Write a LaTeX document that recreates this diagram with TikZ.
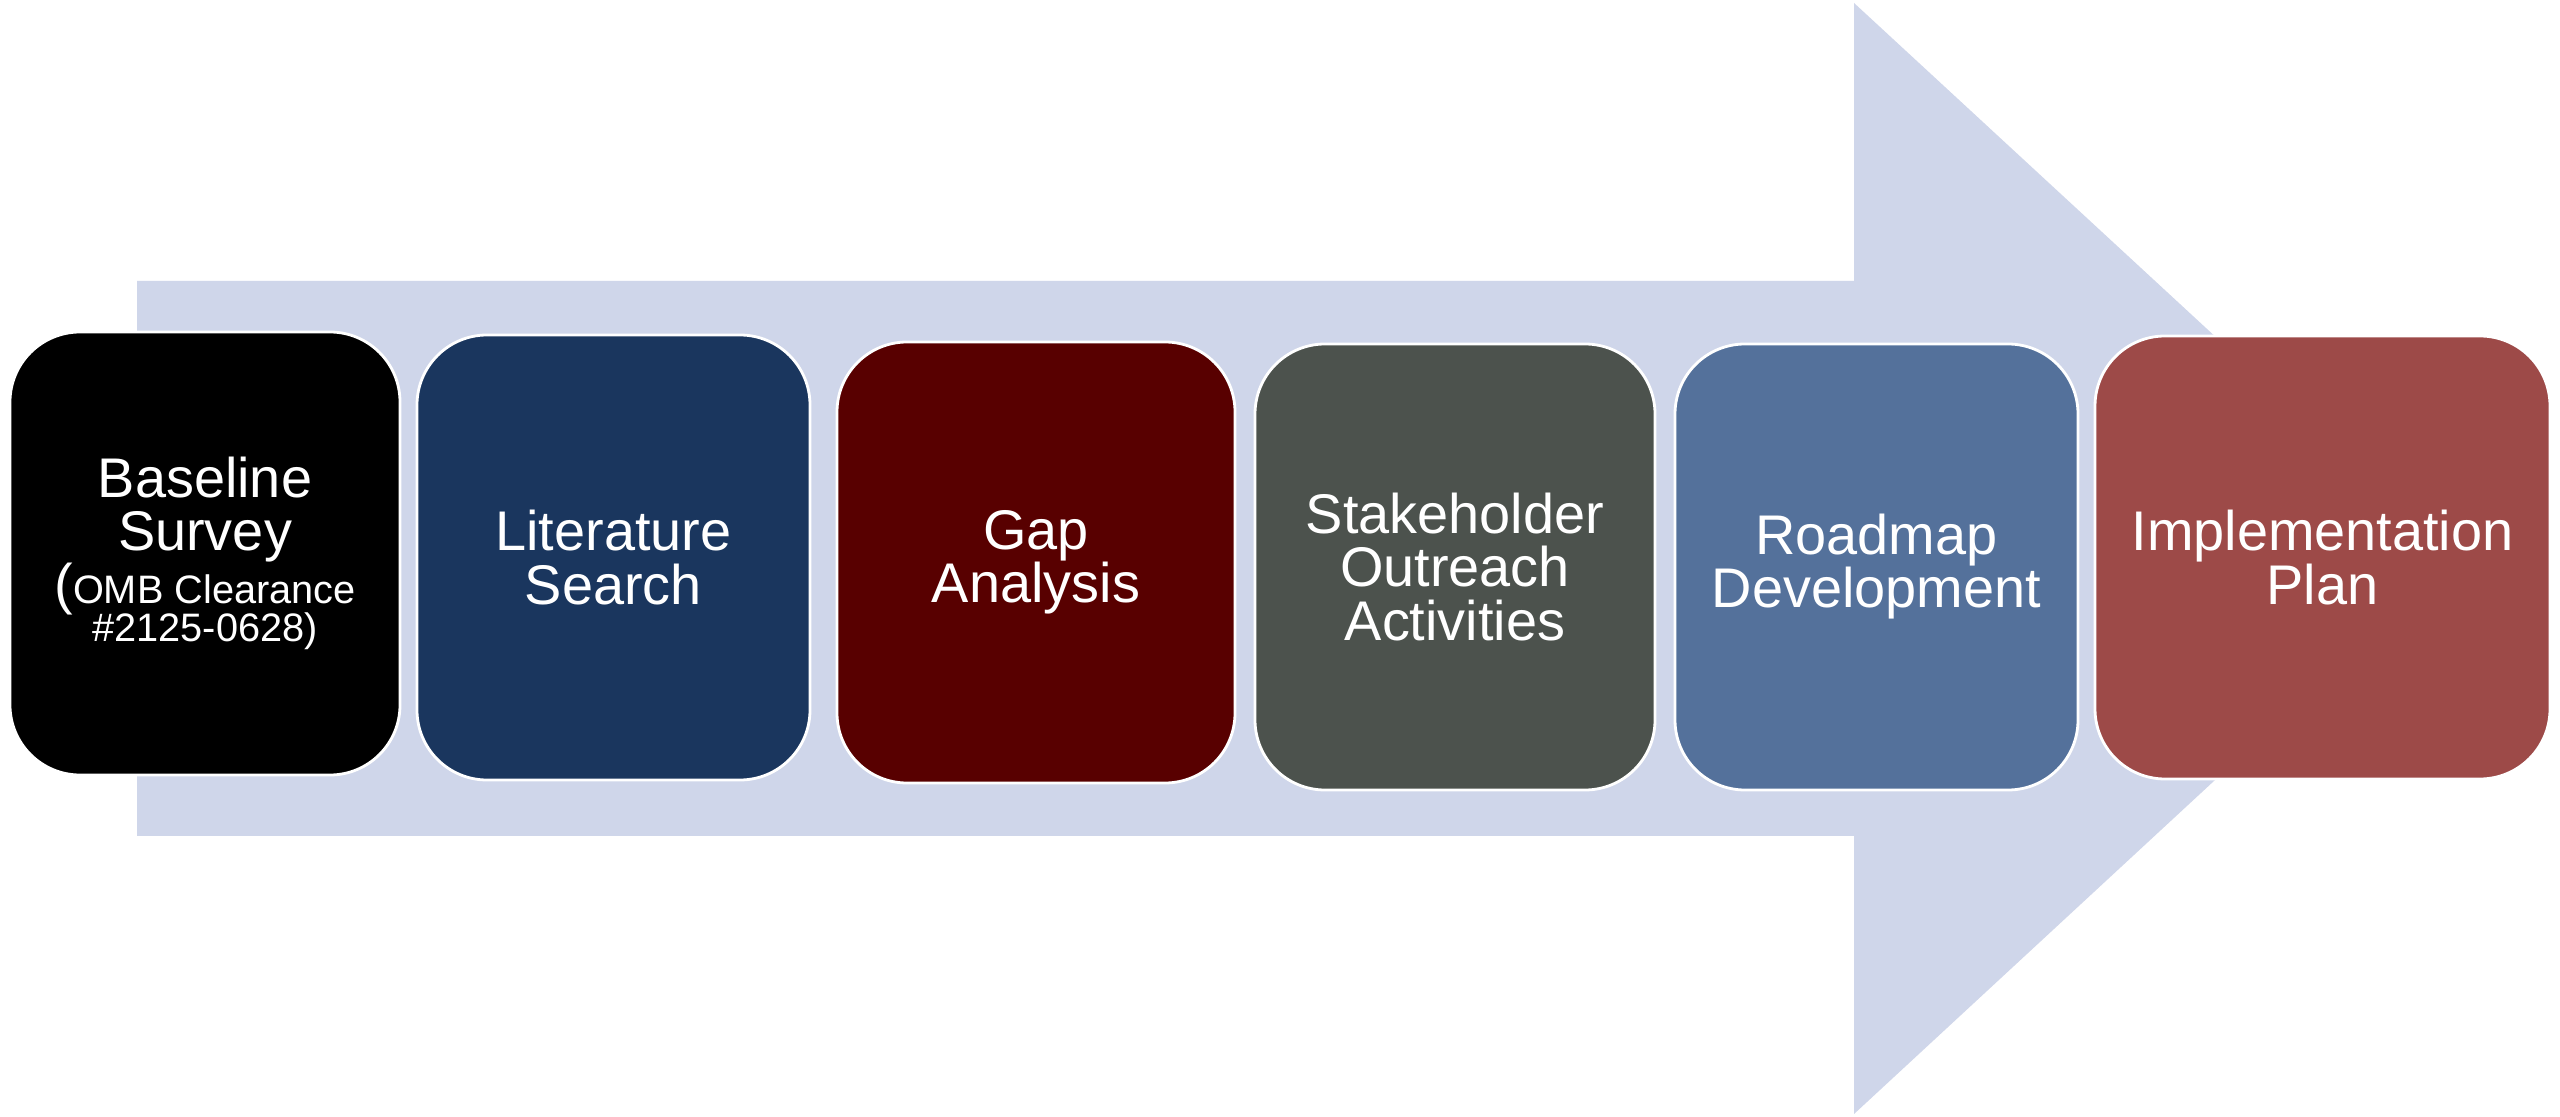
\documentclass[tikz,border=0pt]{standalone}
\usepackage{fontspec}
\setmainfont{Liberation Sans}

\definecolor{flowbg}{HTML}{CFD6EA}
\definecolor{stageA}{HTML}{000000}
\definecolor{stageB}{HTML}{1A365E}
\definecolor{stageC}{HTML}{580000}
\definecolor{stageD}{HTML}{4C524D}
\definecolor{stageE}{HTML}{54719B}
\definecolor{stageF}{HTML}{9D4A48}

\newcommand{\stagefont}{\fontsize{15.9pt}{15.1pt}\selectfont}
\newcommand{\notefont}{\fontsize{11.3pt}{10.8pt}\selectfont}

\tikzstyle{stage}=[rectangle, rounded corners=0.7cm, draw=white, line width=0.8pt, text=white, align=center, inner sep=0pt, font=\stagefont]

\begin{document}
\begin{tikzpicture}
	\useasboundingbox [fill=white] (0,0) rectangle (25.6,11.17);

	% big arrow behind the stages
	\fill [flowbg] (1.37,2.81) -- (1.37,8.36) -- (18.54,8.36) -- (18.54,11.14)
		-- (24.55,5.59) -- (18.54,0.03) -- (18.54,2.81) -- cycle;

		\node (survey) at (2.05,5.635) [stage, fill=stageA, minimum width=3.90cm, minimum height=4.43cm]
			{Baseline\\Survey\\(\notefont OMB Clearance\\[-4.3pt]\notefont\#2125-0628)};
		\node (search) at (6.135,5.595) [stage, fill=stageB, minimum width=3.93cm, minimum height=4.45cm]
			{Literature\\Search};
		\node (gap) at (10.36,5.545) [stage, fill=stageC, minimum width=3.98cm, minimum height=4.41cm]
			{Gap\\Analysis};
		\node (outreach) at (14.55,5.50) [stage, fill=stageD, minimum width=4.00cm, minimum height=4.46cm]
			{Stakeholder\\Outreach\\Activities};
		\node (roadmap) at (18.765,5.50) [stage, fill=stageE, minimum width=4.03cm, minimum height=4.46cm]
			{Roadmap\\Development};
		\node (plan) at (23.225,5.595) [stage, fill=stageF, minimum width=4.55cm, minimum height=4.43cm]
			{Implementation\\Plan};

\end{tikzpicture}
\end{document}
